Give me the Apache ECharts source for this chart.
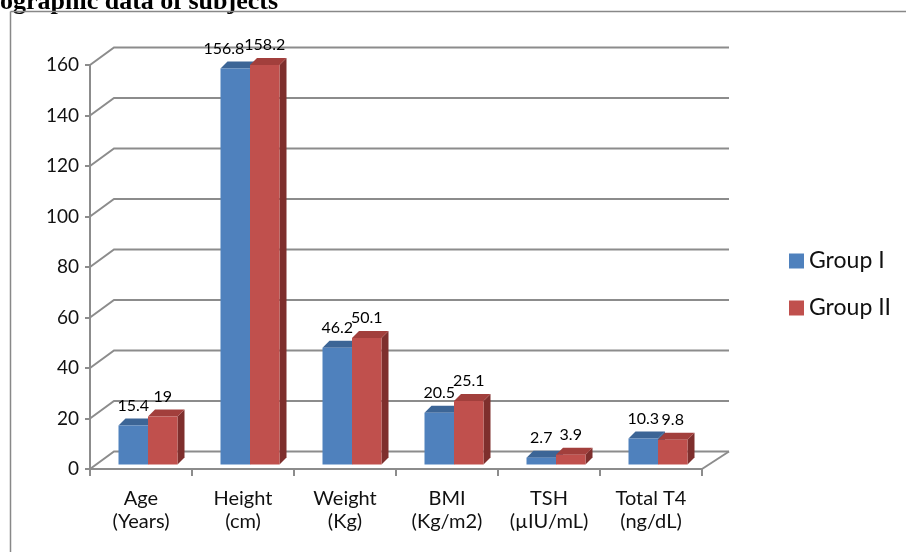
<!DOCTYPE html>
<html>
<head>
<meta charset="utf-8">
<script src="https://cdn.jsdelivr.net/npm/echarts@6/dist/echarts.min.js"></script>
<style>
  html, body { margin: 0; padding: 0; background: #fff; }
  #chart { width: 906px; height: 552px; }
</style>
</head>
<body>
<div id="chart"></div>
<script>
// Demographic data of subjects: two groups across six measures
const categories = ['Age\n(Years)', 'Height\n(cm)', 'Weight\n(Kg)', 'BMI\n(Kg/m2)', 'TSH\n(µIU/mL)', 'Total T4\n(ng/dL)'];
const groupI = [15.4, 156.8, 46.2, 20.5, 2.7, 10.3];
const groupII = [19, 158.2, 50.1, 25.1, 3.9, 9.8];
const yTicks = [0, 20, 40, 60, 80, 100, 120, 140, 160];

// oblique projection of the back wall and of each bar's depth
const WALL_DX = 24, WALL_DY = -17.5;
const BAR_DX = 7, BAR_DY = -7;
const BAR_SHIFT_Y = -4.5;

const palette = {
  'Group I':  { front: '#4F81BD', top: '#3C6596', side: '#385D8A' },
  'Group II': { front: '#C0504D', top: '#A23F3C', side: '#7E2F2D' }
};
const gridColor = '#8C8C8C';
const fontFamily = 'Lato, "DejaVu Sans", sans-serif';
const labelFont = '16px ' + fontFamily;

// text measurement, used to nudge a value label left when it would collide with its neighbour
const measureCtx = document.createElement('canvas').getContext('2d');
measureCtx.font = labelFont;
function textWidth(s) { return measureCtx.measureText(s).width; }

const chart = echarts.init(document.getElementById('chart'), null, { renderer: 'canvas' });

function wallItem(params, api) {
  const v = api.value(1);
  const y = api.coord([0, v])[1];
  const cs = params.coordSys;
  const x0 = cs.x, x1 = cs.x + cs.width;
  const children = [{
    type: 'polyline',
    shape: { points: [[x0, y], [x0 + WALL_DX, y + WALL_DY], [x1 + WALL_DX + 3, y + WALL_DY]] },
    style: { stroke: gridColor, lineWidth: 2, fill: null },
    silent: true
  }];
  if (v === 0) {
    children.push({
      type: 'line',
      shape: { x1: x1, y1: y, x2: x1 + WALL_DX + 3, y2: y + WALL_DY },
      style: { stroke: gridColor, lineWidth: 2 },
      silent: true
    });
  }
  return { type: 'group', children: children };
}

function barRenderer(slot, colors, neighbour) {
  return function (params, api) {
    const idx = api.value(0);
    const val = api.value(1);
    const base = api.coord([idx, 0]);
    const topPt = api.coord([idx, val]);
    const band = api.size([1, 0])[0];
    const start = base[0] - band / 2;
    const w = band * 29.5 / 102;
    const x0 = start + band * 28.5 / 102 + slot * w;
    const yb = base[1] + BAR_SHIFT_Y;
    const yt = topPt[1] + BAR_SHIFT_Y;

    const text = String(val);
    let labelX = x0 + w / 2;
    if (neighbour) {
      const other = neighbour[idx];
      const otherY = api.coord([idx, other])[1] + BAR_SHIFT_Y;
      const overlap = (textWidth(text) + textWidth(String(other))) / 2 - w;
      if (Math.abs(otherY - yt) < 8 && overlap > 0) labelX -= overlap;
    }

    return {
      type: 'group',
      children: [
        {
          type: 'polygon',
          shape: { points: [[x0 + w, yt], [x0 + w + BAR_DX, yt + BAR_DY], [x0 + w + BAR_DX, yb + BAR_DY], [x0 + w, yb]] },
          style: { fill: colors.side }
        },
        {
          type: 'polygon',
          shape: { points: [[x0, yt], [x0 + w, yt], [x0 + w + BAR_DX, yt + BAR_DY], [x0 + BAR_DX, yt + BAR_DY]] },
          style: { fill: colors.top }
        },
        {
          type: 'rect',
          shape: { x: x0, y: yt, width: w, height: yb - yt },
          style: { fill: colors.front }
        },
        {
          type: 'text',
          z2: 100,
          style: {
            x: labelX, y: yt - 20,
            text: text,
            align: 'center', verticalAlign: 'middle',
            font: labelFont,
            fill: '#000'
          }
        }
      ]
    };
  };
}

const option = {
  animation: false,
  backgroundColor: '#fff',
  grid: { left: 90, top: 65, width: 612, height: 404 },
  legend: {
    data: ['Group I', 'Group II'],
    orient: 'vertical',
    left: 784, top: 243,
    itemWidth: 15, itemHeight: 15, itemGap: 21,
    icon: 'rect',
    textStyle: { fontFamily: fontFamily, fontSize: 23, color: '#111', lineHeight: 26 }
  },
  xAxis: {
    type: 'category',
    data: categories,
    axisLine: { show: true, lineStyle: { color: gridColor, width: 2 } },
    axisTick: { show: true, length: 7, lineStyle: { color: gridColor, width: 2 } },
    axisLabel: { interval: 0, fontFamily: fontFamily, fontSize: 20, color: '#111', lineHeight: 23, margin: 18 },
    splitLine: { show: false }
  },
  yAxis: {
    type: 'value',
    min: 0, max: 160, interval: 20,
    axisLine: { show: true, lineStyle: { color: gridColor, width: 2 } },
    axisTick: { show: true, length: 5, lineStyle: { color: gridColor, width: 2 } },
    axisLabel: { fontFamily: fontFamily, fontSize: 19, color: '#111', margin: 11 },
    splitLine: { show: false }
  },
  graphic: [
    {
      type: 'text',
      x: 278, y: 2,
      style: {
        text: 'ographic data of subjects',
        align: 'right', verticalAlign: 'middle',
        font: 'bold 26px "Liberation Serif", "Times New Roman", serif',
        fill: '#000'
      }
    },
    {
      type: 'line',
      shape: { x1: 10.5, y1: 11.5, x2: 10.5, y2: 552 },
      style: { stroke: '#888', lineWidth: 1.5 }
    },
    {
      type: 'line',
      shape: { x1: 10.5, y1: 11.5, x2: 906, y2: 11.5 },
      style: { stroke: '#888', lineWidth: 1.5 }
    }
  ],
  series: [
    {
      name: 'wall',
      type: 'custom',
      silent: true,
      z: 1,
      renderItem: wallItem,
      data: yTicks.map(v => [0, v])
    },
    {
      name: 'Group I',
      type: 'custom',
      z: 2,
      itemStyle: { color: palette['Group I'].front },
      renderItem: barRenderer(0, palette['Group I'], groupII),
      data: groupI.map((v, i) => [i, v])
    },
    {
      name: 'Group II',
      type: 'custom',
      z: 2,
      itemStyle: { color: palette['Group II'].front },
      renderItem: barRenderer(1, palette['Group II'], null),
      data: groupII.map((v, i) => [i, v])
    }
  ]
};

chart.setOption(option);
</script>
</body>
</html>
